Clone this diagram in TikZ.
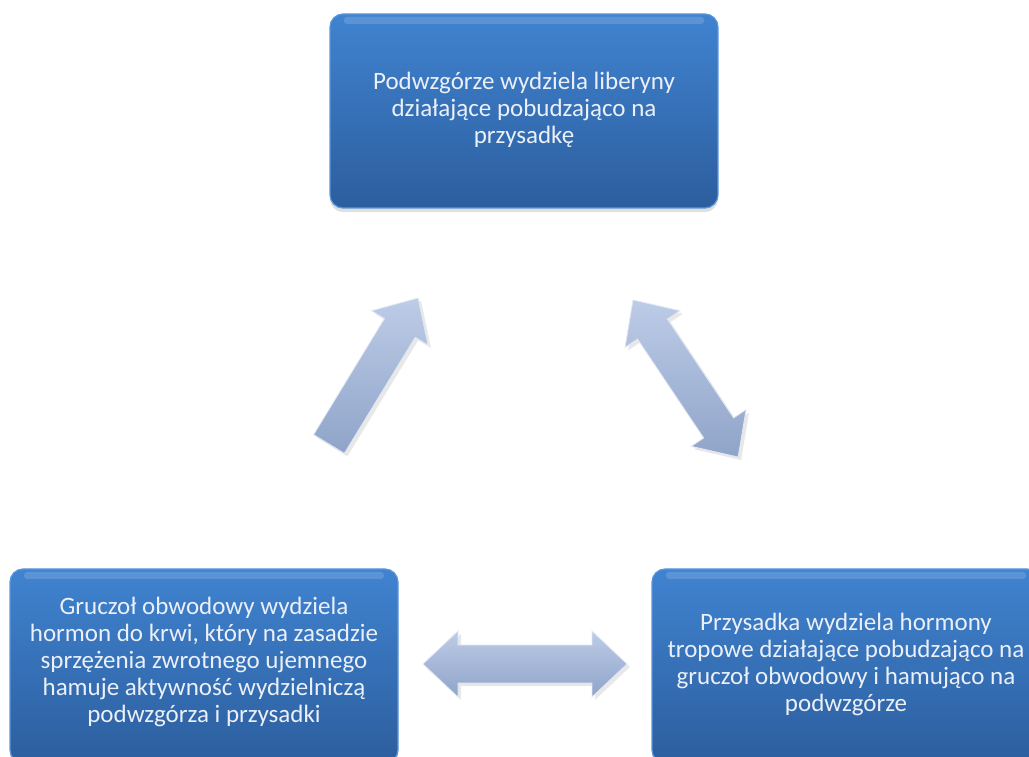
\documentclass[tikz,border=0pt]{standalone}
\usepackage{fontspec}
\setmainfont{Carlito}
\usetikzlibrary{shadows,calc}
\definecolor{boxtop}{HTML}{4083D0}
\definecolor{boxbot}{HTML}{2C5E9E}
\definecolor{boxedge}{HTML}{5B96DA}
\definecolor{arrtop}{HTML}{BDCCE7}
\definecolor{arrbot}{HTML}{8FA4C9}
\definecolor{txt}{HTML}{EBF0F8}

\begin{document}
\begin{tikzpicture}[x=1pt,y=1pt,
  panel/.style={rounded corners=13pt, minimum width=388pt, minimum height=194pt,
    inner sep=0pt, outer sep=0pt, top color=boxtop, bottom color=boxbot,
    draw=boxedge, line width=1.2pt,
    drop shadow={opacity=0.25, shadow xshift=0pt, shadow yshift=-4pt}},
  boxtext/.style={text=txt, font=\fontsize{25}{27}\selectfont, align=center},
  blockarrow/.style={top color=arrtop, bottom color=arrbot, draw=white!55!arrtop,
    line width=0.8pt, line join=miter,
    drop shadow={opacity=0.18, shadow xshift=3pt, shadow yshift=-3pt}},
  gloss/.style={white, opacity=0.15, rounded corners=3pt}
]
\useasboundingbox (0,0) rectangle (1029,756);
\clip (0,0) rectangle (1029,756);

% the three stages of the feedback loop
\node[panel] (hyp)   at (524,645) {};
\node[panel] (gland) at (204,90)  {};
\node[panel] (pit)   at (846,90)  {};

\foreach \b in {hyp,gland,pit}{
  \fill[gloss] ($(\b.north west)+(14,-3)$) rectangle ($(\b.north east)+(-14,-10)$);
}

\node[boxtext] (hyptext) at (524,646)
  {Podwzgórze wydziela liberyny\\działające pobudzająco na\\przysadkę};
\node[boxtext] (glandtext) at (204,94)
  {Gruczoł obwodowy wydziela\\hormon do krwi, który na zasadzie\\sprzężenia zwrotnego ujemnego\\hamuje aktywność wydzielniczą\\podwzgórza i przysadki};
\node[boxtext] (pittext) at (846,92)
  {Przysadka wydziela hormony\\tropowe działające pobudzająco na\\gruczoł obwodowy i hamująco na\\podwzgórze};

% end points of the block arrows
\coordinate (a1s) at (329,312);
\coordinate (a1e) at (418,458);
\coordinate (a2s) at (633,456);
\coordinate (a2e) at (738,299);
\coordinate (a3s) at (423,92);
\coordinate (a3e) at (627,92);

% gland -> hypothalamus (single arrow, length 171)
\begin{scope}[shift={(a1s)}, rotate=58.6]
  \shade[blockarrow] (0,-18) -- (136,-18) -- (136,-33) -- (171,0)
    -- (136,33) -- (136,18) -- (0,18) -- cycle;
\end{scope}

% hypothalamus <-> pituitary (double arrow, length 189)
\begin{scope}[shift={(a2s)}, rotate=-56.2]
  \shade[blockarrow] (0,0) -- (35,33) -- (35,18) -- (154,18) -- (154,33)
    -- (189,0) -- (154,-33) -- (154,-18) -- (35,-18) -- (35,-33) -- cycle;
\end{scope}

% gland <-> pituitary (double arrow, length 204)
\begin{scope}[shift={(a3s)}]
  \shade[blockarrow] (0,0) -- (35,33) -- (35,19) -- (169,19) -- (169,33)
    -- (204,0) -- (169,-33) -- (169,-19) -- (35,-19) -- (35,-33) -- cycle;
\end{scope}
\end{tikzpicture}
\end{document}
